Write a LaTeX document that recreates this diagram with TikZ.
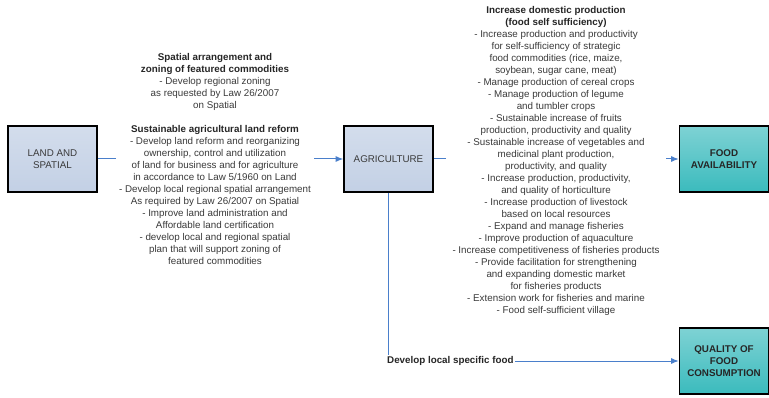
\documentclass[tikz,border=0pt]{standalone}
\usepackage{fontspec}
\setmainfont{Liberation Sans}
\usetikzlibrary{arrows.meta,shadows}
\definecolor{txtgray}{HTML}{3A3A3A}
\definecolor{arrblue}{HTML}{4A7FCB}
\definecolor{lbtop}{HTML}{D3DDEC}
\definecolor{lbbot}{HTML}{C3D0E5}
\definecolor{tltop}{HTML}{7ED2D4}
\definecolor{tlbot}{HTML}{3BBBBD}
\tikzset{
  basebox/.style={draw=black, line width=1.6pt, minimum width=89pt, minimum height=66pt,
    align=center, inner sep=2pt, font=\fontsize{9.8}{12}\selectfont,
    drop shadow={shadow xshift=1pt, shadow yshift=-1pt, fill=black!25, opacity=0.6}},
  bluebox/.style={basebox, top color=lbtop, bottom color=lbbot, text=txtgray},
  tealbox/.style={basebox, top color=tltop, bottom color=tlbot, text=black!85, font=\fontsize{9.8}{12}\selectfont\bfseries},
  arr/.style={draw=arrblue, line width=1pt, -{Latex[length=7.5pt,width=6pt]}},
  desc/.style={align=center, inner xsep=3pt, inner ysep=1pt, fill=white, text=txtgray,
    font=\fontsize{9.8}{12}\selectfont},
  ttl/.style={text=black!85}
}
\begin{document}
\begin{tikzpicture}[x=1pt,y=-1pt]
\useasboundingbox (0,0) rectangle (769,398);
% boxes
\node[bluebox] (land) at (52.5,159) {LAND AND\\SPATIAL};
\node[bluebox] (agri) at (388.5,159) {AGRICULTURE};
\node[tealbox] (food) at (724,159) {FOOD\\AVAILABILITY};
\node[tealbox] (qual) at (724,361) {QUALITY OF\\FOOD\\CONSUMPTION};
% connectors
\draw[arr] (land.east) -- (agri.west);
\draw[arr] (agri.east) -- (food.west);
\draw[arr] (agri.south) |- (qual.west);
% texts
\node[desc, anchor=north, fill=none] (t1) at (215,52) {%
{\bfseries\color{black!85}Spatial arrangement and}\\
{\bfseries\color{black!85}zoning of featured commodities}\\
- Develop regional zoning\\
as requested by Law 26/2007\\
on Spatial};
\node[desc, anchor=north] (t2) at (215,124) {%
{\bfseries\color{black!85}Sustainable agricultural land reform}\\
- Develop land reform and reorganizing\\
ownership, control and utilization\\
of land for business and for agriculture\\
in accordance to Law 5/1960 on Land\\
- Develop local regional spatial arrangement\\
As required by Law 26/2007 on Spatial\\
- Improve land administration and\\
Affordable land certification\\
- develop local and regional spatial\\
plan that will support zoning of\\
featured commodities};
\node[desc, anchor=north, inner xsep=7pt] (t3) at (556,5) {%
{\bfseries\color{black!85}Increase domestic production}\\
{\bfseries\color{black!85}(food self sufficiency)}\\
- Increase production and productivity\\
for self-sufficiency of strategic\\
food commodities (rice, maize,\\
soybean, sugar cane, meat)\\
- Manage production of cereal crops\\
- Manage production of legume\\
and tumbler crops\\
- Sustainable increase of fruits\\
production, productivity and quality\\
- Sustainable increase of vegetables and\\
medicinal plant production,\\
productivity, and quality\\
- Increase production, productivity,\\
and quality of horticulture\\
- Increase production of livestock\\
based on local resources\\
- Expand and manage fisheries\\
- Improve production of aquaculture\\
- Increase competitiveness of fisheries products\\
- Provide facilitation for strengthening\\
and expanding domestic market\\
for fisheries products\\
- Extension work for fisheries and marine\\
- Food self-sufficient village};
\node[desc, anchor=west, inner xsep=1pt, font=\fontsize{9.8}{12}\selectfont\bfseries, text=black!85] (lbl) at (386,361) {Develop local specific food};
\end{tikzpicture}
\end{document}
